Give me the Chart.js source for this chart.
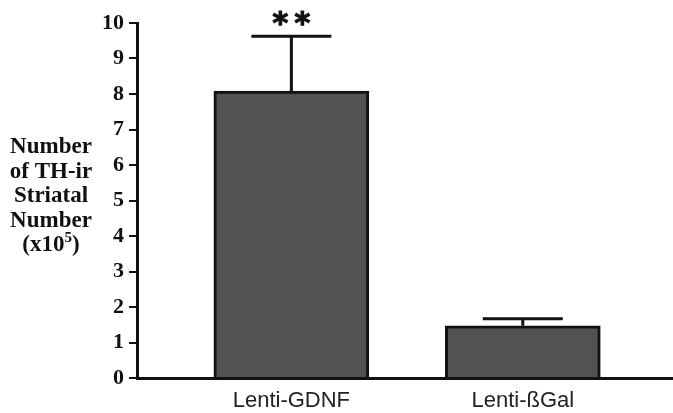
<!DOCTYPE html>
<html>
<head>
<meta charset="utf-8">
<script src="https://cdn.jsdelivr.net/npm/chart.js@4.4.1/dist/chart.umd.min.js"></script>
<style>
  html, body { margin: 0; padding: 0; background: #fff; }
  #wrap { width: 673px; height: 413px; position: relative; }
</style>
</head>
<body>
<div id="wrap"><canvas id="c" width="673" height="413"></canvas></div>
<script>
// ---- data ----
const categories = ['Lenti-GDNF', 'Lenti-\u00DFGal'];
const meanValues = [8.08, 1.47];
const errorValues = [1.55, 0.20];
const significance = ['**', ''];
const yTicks = [0, 1, 2, 3, 4, 5, 6, 7, 8, 9, 10];
const yTitleLines = ['Number', 'of TH-ir', 'Striatal', 'Number'];

const points = categories.map((c, i) => ({ x: i + 1, y: meanValues[i] }));

const errorPlugin = {
  id: 'errorBars',
  afterDatasetsDraw(chart) {
    const ctx = chart.ctx;
    const xs = chart.scales.x, ys = chart.scales.y;
    categories.forEach((c, i) => {
      ctx.save();
      ctx.strokeStyle = '#111';
      ctx.lineWidth = 3;
      const x = xs.getPixelForValue(i + 1);
      const yTop = ys.getPixelForValue(meanValues[i] + errorValues[i]);
      const yBar = ys.getPixelForValue(meanValues[i]);
      ctx.beginPath();
      ctx.moveTo(x, yBar);
      ctx.lineTo(x, yTop);
      ctx.moveTo(x - 40, yTop);
      ctx.lineTo(x + 40, yTop);
      ctx.stroke();
      if (significance[i]) {
        ctx.fillStyle = '#111';
        ctx.font = 'bold 30px "DejaVu Sans"';
        ctx.textAlign = 'center';
        ctx.textBaseline = 'alphabetic';
        ctx.lineWidth = 1.2;
        const stars = significance[i].split('');
        const gap = 22;
        stars.forEach((st, k) => {
          const sx = x + (k - (stars.length - 1) / 2) * gap;
          ctx.fillText(st, sx, yTop - 3);
          ctx.strokeText(st, sx, yTop - 3);
        });
      }
      ctx.restore();
    });
  }
};

const titlePlugin = {
  id: 'yTitle',
  afterDraw(chart) {
    const ctx = chart.ctx;
    ctx.save();
    ctx.fillStyle = '#111';
    ctx.font = 'bold 23px "Liberation Serif"';
    ctx.textAlign = 'center';
    ctx.textBaseline = 'alphabetic';
    const cx = 51;
    yTitleLines.forEach((t, i) => ctx.fillText(t, cx, 153 + 24.5 * i));
    // "(x10^5)"
    const by = 153 + 24.5 * yTitleLines.length;
    const a = '(x10', s = '5', b = ')';
    ctx.font = 'bold 23px "Liberation Serif"';
    const wa = ctx.measureText(a).width, wb = ctx.measureText(b).width;
    ctx.font = 'bold 15px "Liberation Serif"';
    const ws = ctx.measureText(s).width;
    let x0 = cx - (wa + ws + wb) / 2;
    ctx.textAlign = 'left';
    ctx.font = 'bold 23px "Liberation Serif"';
    ctx.fillText(a, x0, by);
    ctx.font = 'bold 15px "Liberation Serif"';
    ctx.fillText(s, x0 + wa, by - 9);
    ctx.font = 'bold 23px "Liberation Serif"';
    ctx.fillText(b, x0 + wa + ws, by);
    ctx.restore();
  }
};

new Chart(document.getElementById('c'), {
  type: 'bar',
  data: {
    datasets: [{
      data: points,
      backgroundColor: '#525252',
      borderColor: '#111',
      borderWidth: 3,
      borderSkipped: 'bottom',
      barThickness: 155
    }]
  },
  options: {
    responsive: false,
    animation: false,
    devicePixelRatio: 1,
    layout: { autoPadding: false, padding: { left: 0, right: 0, top: 23, bottom: 0 } },
    plugins: { legend: { display: false }, tooltip: { enabled: false } },
    scales: {
      x: {
        type: 'linear',
        offset: false,
        min: 0.333,
        max: 2.649,
        grid: { display: false },
        border: { display: true, color: '#111', width: 3 },
        afterBuildTicks: (s) => { s.ticks = categories.map((c, i) => ({ value: i + 1 })); },
        afterFit: (s) => { s.height = 35; },
        ticks: {
          autoSkip: false,
          maxRotation: 0,
          padding: 2,
          color: '#222',
          font: { family: '"Liberation Sans"', size: 22 },
          callback: (v) => categories[v - 1]
        }
      },
      y: {
        min: 0,
        max: 10,
        afterBuildTicks: (s) => { s.ticks = yTicks.map(v => ({ value: v })); },
        afterFit: (s) => { s.width = 137; },
        grid: { drawOnChartArea: false, drawTicks: true, tickLength: 8, color: '#111', lineWidth: 2 },
        border: { display: true, color: '#111', width: 3 },
        ticks: {
          padding: 5,
          color: '#111',
          font: { family: '"Liberation Serif"', size: 22, weight: 'bold' }
        }
      }
    }
  },
  plugins: [errorPlugin, titlePlugin]
});
</script>
</body>
</html>
